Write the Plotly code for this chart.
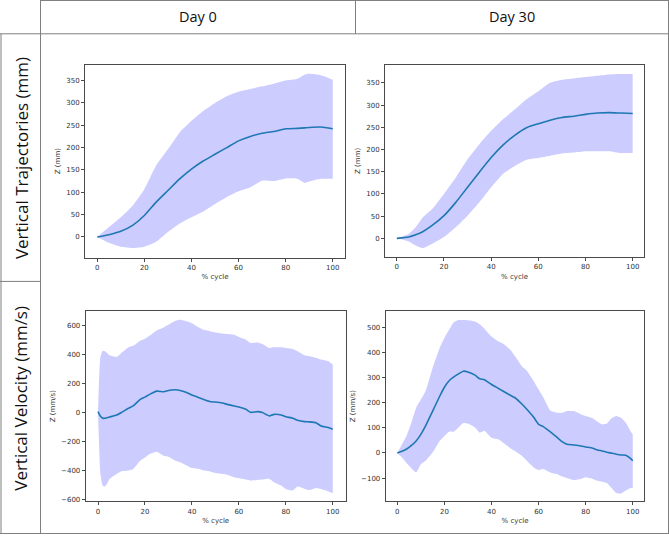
import plotly.graph_objects as go

# ---------------- data ----------------
col_headers = ["Day 0", "Day 30"]
row_labels = ["Vertical Trajectories (mm)", "Vertical Velocity (mm/s)"]
x_title = "% cycle"
y_titles = ["Z (mm)", "Z (mm)", "Z (mm/s)", "Z (mm/s)"]

x1 = [0, 5, 10, 15, 20, 25, 30, 35, 40, 45, 50, 55, 60, 65, 70, 75, 80, 85, 88, 90, 95, 100]
mean1 = [0, 5, 12.6, 26, 48, 78, 104, 130, 152, 170, 185, 200, 215, 225, 232, 236, 242, 243, 244, 245, 246, 242]
upper1 = [0, 22, 44, 70, 107, 160, 196, 234, 260, 282, 300, 315, 325, 331, 337, 343, 350, 354, 363, 365, 362, 352]
lower1 = [0, -13, -22, -25, -22, -11, 11, 30, 44, 57, 74, 89, 102, 111, 126, 125, 131, 130, 121, 124, 130, 130]

x2 = [0, 5, 8, 11, 15, 20, 25, 30, 35, 40, 45, 50, 55, 60, 65, 70, 75, 80, 85, 90, 95, 100]
mean2 = [0, 3, 8, 15, 29, 51, 81, 115, 149, 182, 210, 232, 249, 258, 266, 272, 275, 279, 282, 283, 282, 281]
upper2 = [0, 10, 25, 47, 66, 100, 137, 178, 212, 242, 268, 290, 313, 331, 350, 357, 360, 363, 366, 369, 370, 370]
lower2 = [0, -7, -16, -22, -12, 3, 25, 51, 81, 115, 145, 163, 177, 181, 186, 191, 193, 196, 196, 196, 192, 192]

x3 = [0, 1, 2, 3, 5, 8, 10, 13, 15, 18, 20, 22, 25, 28, 30, 33, 35, 38, 40, 43, 45, 48, 50,
      53, 55, 58, 60, 63, 65, 68, 70, 73, 75, 78, 80, 83, 85, 88, 90, 93, 95, 98, 100]
mean3 = [6, -25, -40, -40, -31, -17, 0, 29, 45, 90, 106, 125, 147, 143, 152, 157, 152, 136, 120, 102, 90, 74, 72,
         65, 56, 45, 38, 22, 1, 6, -1, -24, -13, -17, -29, -40, -54, -63, -65, -72, -93, -104, -115]
upper3 = [6, 380, 426, 422, 394, 383, 410, 450, 460, 495, 508, 530, 566, 586, 604, 632, 639, 627, 616, 586, 570, 559, 552,
          545, 541, 536, 520, 502, 479, 483, 472, 445, 449, 449, 445, 438, 422, 394, 387, 376, 365, 353, 330]
lower3 = [6, -420, -504, -511, -458, -424, -406, -401, -390, -333, -310, -287, -270, -298, -305, -333, -344, -367, -383, -390, -401, -408, -417,
          -424, -429, -447, -454, -463, -470, -465, -463, -458, -481, -504, -527, -538, -511, -527, -534, -520, -527, -543, -557]

x4 = [0, 2, 4, 6, 8, 10, 12, 15, 18, 20, 22, 24, 26, 28, 30, 33, 35, 37, 40, 43, 45, 48, 50,
      53, 55, 58, 60, 62, 65, 68, 70, 72, 75, 78, 80, 83, 85, 87, 89, 91, 93, 95, 97, 99, 100]
mean4 = [0, 7, 16, 30, 48, 74, 108, 167, 226, 262, 288, 303, 315, 326, 323, 310, 296, 292, 273, 257, 246, 230, 220,
         194, 174, 141, 114, 105, 84, 61, 45, 35, 32, 28, 24, 19, 12, 8, 3, -1, -5, -8, -9, -22, -31]
upper4 = [0, 35, 70, 120, 180, 213, 246, 339, 418, 458, 491, 521, 530, 530, 529, 524, 513, 495, 464, 444, 435, 411, 385,
          345, 328, 286, 253, 222, 169, 160, 160, 167, 167, 154, 147, 138, 124, 114, 117, 138, 147, 140, 121, 88, 74]
lower4 = [0, -18, -41, -61, -78, -45, -31, 2, 48, 68, 85, 85, 101, 119, 117, 101, 81, 88, 61, 54, 41, 19, 8,
          -12, -31, -58, -68, -64, -78, -85, -94, -100, -108, -104, -97, -104, -111, -115, -120, -140, -160, -162, -150, -140, -140]

x_ticks = [0, 20, 40, 60, 80, 100]
y_ticks = [
    [0, 50, 100, 150, 200, 250, 300, 350],
    [0, 50, 100, 150, 200, 250, 300, 350],
    [-600, -400, -200, 0, 200, 400, 600],
    [-100, 0, 100, 200, 300, 400, 500],
]
y_tick_text = [
    [str(v) for v in y_ticks[0]],
    [str(v) for v in y_ticks[1]],
    [str(v).replace("-", "\u2212") for v in y_ticks[2]],
    [str(v).replace("-", "\u2212") for v in y_ticks[3]],
]

panels = [(x1, mean1, upper1, lower1), (x2, mean2, upper2, lower2),
          (x3, mean3, upper3, lower3), (x4, mean4, upper4, lower4)]

# ---------------- layout geometry (pixels) ----------------
W, H = 669, 537
boxes = [  # left, right, top, bottom in px
    (85, 345, 65, 259),
    (385, 644, 65, 258.5),
    (85.7, 345.7, 312.7, 504),
    (385.7, 644.3, 312.7, 504),
]
y_ranges = [(-46.1, 385.6), (-42.1, 391), (-611.7, 700), (-192.2, 566)]
x_ranges = [(-5.2, 105.2), (-5.0, 104.8), (-5.24, 105.5), (-4.93, 104.9)]

def px(x):
    return x / W

def py(y):
    return 1 - y / H

fig = go.Figure()

band_fill = "rgba(0,0,255,0.2)"
line_col = "#1f77b4"

for i, (xs, m, up, lo) in enumerate(panels):
    suffix = "" if i == 0 else str(i + 1)
    xa, ya = "x" + suffix, "y" + suffix
    fig.add_trace(go.Scatter(x=xs, y=up, mode="lines", line=dict(width=0, shape="spline", smoothing=0.5),
                             xaxis=xa, yaxis=ya, showlegend=False, hoverinfo="skip"))
    fig.add_trace(go.Scatter(x=xs, y=lo, mode="lines", line=dict(width=0, shape="spline", smoothing=0.5),
                             fill="tonexty", fillcolor=band_fill,
                             xaxis=xa, yaxis=ya, showlegend=False, hoverinfo="skip"))
    fig.add_trace(go.Scatter(x=xs, y=m, mode="lines", line=dict(color=line_col, width=1.6, shape="spline", smoothing=0.5),
                             xaxis=xa, yaxis=ya, showlegend=False))

tick_font = dict(family="DejaVu Sans", size=7, color="#333333")
axis_common = dict(showline=True, mirror=True, linecolor="#4a4a4a", linewidth=1,
                   showgrid=False, zeroline=False, ticks="outside", ticklen=3, tickwidth=1,
                   tickcolor="#4a4a4a", tickfont=tick_font)

layout = dict(width=W, height=H, margin=dict(l=0, r=0, t=0, b=0),
              paper_bgcolor="white", plot_bgcolor="white", showlegend=False)

for i in range(4):
    l, r, t, b = boxes[i]
    suffix = "" if i == 0 else str(i + 1)
    layout["xaxis" + suffix] = dict(
        domain=[px(l), px(r)], range=list(x_ranges[i]), anchor="y" + suffix,
        tickvals=x_ticks, ticktext=[str(v) for v in x_ticks],
        title=dict(text=x_title, font=dict(family="DejaVu Sans", size=7, color="#333333"), standoff=3),
        **axis_common)
    layout["yaxis" + suffix] = dict(
        domain=[py(b), py(t)], range=list(y_ranges[i]), anchor="x" + suffix,
        tickvals=y_ticks[i], ticktext=y_tick_text[i],
        title=dict(text=y_titles[i], font=dict(family="DejaVu Sans", size=7, color="#333333"), standoff=4),
        **axis_common)

fig.update_layout(**layout)

# ---------------- table lines ----------------
grid_col = "#7f7f7f"
lines = [
    (40.5, 0.5, 668.5, 0.5),      # top of header
    (0, 34, 669, 34),             # header bottom
    (40.5, 0, 40.5, 537),         # label column right
    (355.5, 0, 355.5, 34),        # header divider
    (1, 34, 1, 537),              # left border
    (0, 283, 40.5, 283),          # row divider in label column
    (0, 536.5, 669, 536.5),       # bottom border
    (668.5, 0, 668.5, 537),       # right border
]
for (xa_, ya_, xb_, yb_) in lines:
    fig.add_shape(type="line", xref="paper", yref="paper",
                  x0=px(xa_), y0=py(ya_), x1=px(xb_), y1=py(yb_),
                  line=dict(color=grid_col, width=1))

# headers
header_x = [197.5, 512]
for txt, hx in zip(col_headers, header_x):
    fig.add_annotation(x=px(hx), y=py(17), xref="paper", yref="paper", text=txt, showarrow=False,
                       font=dict(family="Open Sans", size=14.5, color="#111111"),
                       xanchor="center", yanchor="middle")

row_y = [159, 401]
for txt, ry in zip(row_labels, row_y):
    fig.add_annotation(x=px(21), y=py(ry), xref="paper", yref="paper", text=txt, showarrow=False,
                       textangle=-90, font=dict(family="Open Sans", size=17, color="#111111"),
                       xanchor="center", yanchor="middle")

fig.write_html("out.html",
               config={"displayModeBar": False},
               post_script="document.body.style.margin='0';document.body.style.overflow='hidden';")
